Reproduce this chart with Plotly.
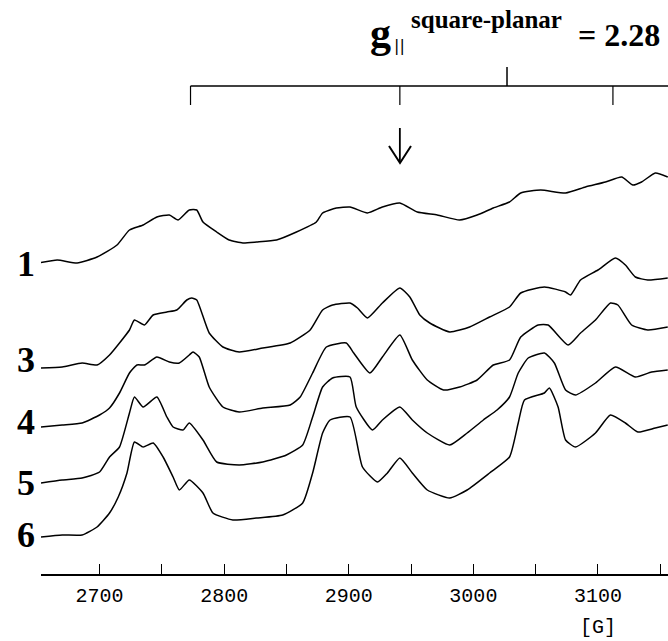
import plotly.graph_objects as go

# ---------------- data (field in G, signal in px-like a.u. above each baseline) ----------------
field_1 = [2651, 2666, 2682, 2698, 2714, 2724, 2735, 2746, 2756, 2763, 2772, 2778, 2783, 2794, 2804,
           2815, 2826, 2842, 2858, 2874, 2879, 2890, 2901, 2915, 2927, 2941, 2955, 2971, 2989, 3003,
           3016, 3029, 3038, 3054, 3074, 3090, 3106, 3119, 3128, 3135, 3146, 3156]
signal_1 = [0, 3, 0, 6, 18, 33, 38, 46, 48, 43, 53, 53, 41, 31, 23,
            20, 21, 23, 31, 41, 50, 55, 56, 50, 56, 60, 51, 48, 43, 48,
            55, 61, 70, 73, 70, 76, 81, 86, 78, 81, 90, 86]

field_3 = [2652, 2670, 2686, 2698, 2708, 2716, 2724, 2728, 2736, 2743, 2754, 2762, 2770, 2774, 2778,
           2788, 2799, 2812, 2831, 2853, 2869, 2879, 2887, 2901, 2907, 2915, 2927, 2941, 2949, 2957,
           2965, 2981, 2997, 3013, 3029, 3038, 3057, 3074, 3078, 3086, 3100, 3114, 3122, 3130, 3140, 3156]
signal_3 = [0, 1, 5, 3, 13, 25, 38, 48, 43, 53, 56, 58, 68, 70, 68,
            35, 21, 16, 20, 25, 38, 58, 63, 65, 60, 50, 65, 80, 71, 53,
            45, 36, 41, 51, 61, 75, 81, 76, 73, 88, 98, 110, 103, 91, 88, 90]

field_4 = [2652, 2670, 2686, 2700, 2708, 2716, 2724, 2730, 2736, 2746, 2756, 2764, 2772, 2775, 2780,
           2788, 2799, 2812, 2831, 2853, 2861, 2871, 2882, 2898, 2904, 2917, 2927, 2941, 2951, 2963,
           2976, 2989, 3003, 3016, 3029, 3038, 3052, 3060, 3076, 3086, 3098, 3110, 3116, 3127, 3140, 3156]
signal_4 = [0, 2, 4, 12, 19, 34, 54, 62, 62, 70, 65, 64, 72, 75, 70,
            40, 20, 15, 19, 22, 30, 54, 80, 84, 74, 54, 70, 92, 67, 47,
            37, 40, 47, 62, 67, 90, 102, 102, 82, 94, 107, 124, 122, 102, 97, 100]

field_5 = [2653, 2670, 2686, 2700, 2708, 2716, 2724, 2728, 2735, 2746, 2754, 2759, 2767, 2772, 2783,
           2794, 2812, 2831, 2850, 2863, 2871, 2879, 2887, 2901, 2906, 2919, 2927, 2941, 2951, 2963,
           2981, 2995, 3008, 3019, 3029, 3036, 3044, 3057, 3065, 3074, 3082, 3098, 3114, 3130, 3143, 3156]
signal_5 = [0, 3, 5, 11, 26, 36, 70, 86, 76, 86, 66, 56, 53, 60, 43,
            21, 18, 21, 28, 38, 66, 96, 105, 106, 76, 53, 63, 76, 63, 50,
            38, 50, 63, 73, 86, 110, 125, 130, 120, 93, 88, 100, 116, 106, 111, 113]

field_6 = [2653, 2670, 2686, 2698, 2708, 2715, 2722, 2728, 2735, 2743, 2751, 2759, 2764, 2772, 2783,
           2791, 2807, 2826, 2847, 2863, 2871, 2879, 2885, 2901, 2911, 2923, 2931, 2941, 2951, 2963,
           2981, 2995, 3013, 3029, 3036, 3041, 3057, 3061, 3068, 3074, 3082, 3098, 3110, 3122, 3132, 3146, 3156]
signal_6 = [0, 2, 2, 10, 24, 40, 64, 95, 90, 94, 80, 60, 47, 57, 44,
            24, 17, 19, 22, 34, 64, 104, 117, 120, 70, 55, 64, 79, 64, 47,
            39, 47, 64, 80, 114, 137, 144, 149, 130, 97, 90, 104, 122, 114, 105, 109, 112]

spectra = [("1", field_1, signal_1, 311),
           ("3", field_3, signal_3, 206),
           ("4", field_4, signal_4, 147),
           ("5", field_5, signal_5, 91),
           ("6", field_6, signal_6, 37)]

tick_fields = [2700, 2750, 2800, 2850, 2900, 2950, 3000, 3050, 3100, 3150]
tick_labels = ["2700", "", "2800", "", "2900", "", "3000", "", "3100", ""]

hyperfine_lines = [2773, 2941, 3112]   # g|| square-planar hyperfine positions
g_center = 3027
arrow_field = 2941

W, H = 668, 641
def px(x):
    return x / W
def py(y):
    return 1 - y / H

fig = go.Figure()
for name, f, s, off in spectra:
    fig.add_trace(go.Scatter(x=f, y=[off + v for v in s], mode="lines",
                             line=dict(color="black", width=1.5, shape="spline", smoothing=0.5),
                             showlegend=False, hoverinfo="skip"))

serif = "Liberation Serif"
mono = "Liberation Mono"
label_y = {"1": 264, "3": 360, "4": 422, "5": 483, "6": 535}
annotations = []
for name, _, _, _ in spectra:
    annotations.append(dict(text="<b>%s</b>" % name, x=px(26), y=py(label_y[name]),
                            xref="paper", yref="paper", xanchor="center", yanchor="middle",
                            showarrow=False, font=dict(family=serif, size=36, color="black")))

annotations += [
    dict(text="<b>g</b>", x=px(392), y=py(33), xref="paper", yref="paper", xanchor="right",
         yanchor="middle", showarrow=False, borderpad=0,
         font=dict(family=serif, size=42, color="black")),
    dict(text="||", x=px(393), y=py(46), xref="paper", yref="paper", xanchor="left",
         yanchor="middle", showarrow=False, borderpad=0,
         font=dict(family="DejaVu Sans", size=16, color="black")),
    dict(text="<b>square-planar</b>", x=px(409), y=py(20), xref="paper", yref="paper", xanchor="left",
         yanchor="middle", showarrow=False, font=dict(family=serif, size=25, color="black")),
    dict(text="<b>= 2.28</b>", x=px(576), y=py(35), xref="paper", yref="paper", xanchor="left",
         yanchor="middle", showarrow=False, font=dict(family=serif, size=32, color="black")),
    dict(text="[G]", x=3100, y=py(627), xref="x", yref="paper", xanchor="center",
         yanchor="middle", showarrow=False, font=dict(family=mono, size=20, color="black")),
]

shapes = []
bar_y = py(86)
shapes.append(dict(type="line", xref="x", yref="paper", x0=hyperfine_lines[0], x1=3300,
                   y0=bar_y, y1=bar_y, line=dict(color="black", width=1.5)))
for hf in hyperfine_lines:
    shapes.append(dict(type="line", xref="x", yref="paper", x0=hf, x1=hf,
                       y0=bar_y, y1=py(105), line=dict(color="black", width=1.2)))
shapes.append(dict(type="line", xref="x", yref="paper", x0=g_center, x1=g_center,
                   y0=bar_y, y1=py(67), line=dict(color="black", width=1.5)))
# arrow
shapes.append(dict(type="line", xref="x", yref="paper", x0=arrow_field, x1=arrow_field,
                   y0=py(128), y1=py(162), line=dict(color="black", width=1.8)))
shapes.append(dict(type="path", xref="paper", yref="paper",
                   path="M %f %f L %f %f L %f %f" % (px(389), py(146), px(400), py(163), px(411), py(146)),
                   line=dict(color="black", width=2)))

fig.update_layout(
    width=W, height=H,
    margin=dict(l=0, r=0, t=0, b=0),
    paper_bgcolor="white", plot_bgcolor="white",
    showlegend=False,
    xaxis=dict(domain=[41 / W, 1], range=[2653, 3156.2], showgrid=False, zeroline=False,
               showline=True, linecolor="black", linewidth=1.5,
               ticks="inside", ticklen=10, tickwidth=1, tickcolor="black",
               tickvals=tick_fields, ticktext=tick_labels, ticklabelstandoff=2,
               tickfont=dict(family=mono, size=20, color="black")),
    yaxis=dict(domain=[(H - 574) / H, 1], range=[0, 574], visible=False),
    annotations=annotations,
    shapes=shapes,
)
fig.write_html("out.html")
